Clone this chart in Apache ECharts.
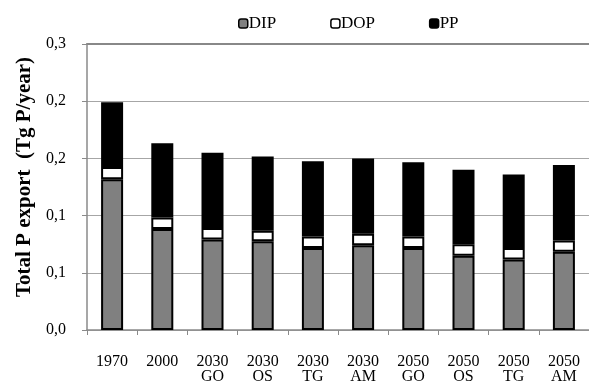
<!DOCTYPE html>
<html>
<head>
<meta charset="utf-8">
<script src="https://cdn.jsdelivr.net/npm/echarts@6/dist/echarts.min.js"></script>
<style>
  html, body { margin: 0; padding: 0; background: #fff; }
  #chart { width: 589px; height: 385px; }
</style>
</head>
<body>
<div id="chart"></div>
<script>
// Scenario labels (year + scenario code)
const categories = ['1970', '2000', '2030\nGO', '2030\nOS', '2030\nTG', '2030\nAM', '2050\nGO', '2050\nOS', '2050\nTG', '2050\nAM'];

// Total P export components, Tg P/year
const dip = [0.158, 0.106, 0.095, 0.093, 0.086, 0.089, 0.086, 0.078, 0.074, 0.082];
const dop = [0.013, 0.012, 0.012, 0.011, 0.012, 0.012, 0.012, 0.012, 0.012, 0.012];
const pp  = [0.068, 0.078, 0.079, 0.078, 0.079, 0.079, 0.078, 0.078, 0.077, 0.079];

const serif = "'Liberation Serif', 'Times New Roman', serif";

const chart = echarts.init(document.getElementById('chart'), null, { renderer: 'canvas' });

function seg(name, data, color) {
  return {
    name: name,
    type: 'bar',
    stack: 'total',
    data: data,
    barWidth: 22,
    itemStyle: { color: color, borderColor: '#000', borderWidth: 2 },
    emphasis: { disabled: true }
  };
}

chart.setOption({
  animation: false,
  textStyle: { fontFamily: serif },
  legend: {
    top: 10,
    left: 233,
    itemWidth: 9,
    itemHeight: 9,
    itemGap: 54,
    icon: 'roundRect',
    textStyle: { fontFamily: serif, fontSize: 17, color: '#000', padding: [0, 0, 0, -4] },
    data: [
      { name: 'DIP', itemStyle: { color: '#808080', borderColor: '#000', borderWidth: 1.5 } },
      { name: 'DOP', itemStyle: { color: '#fff', borderColor: '#000', borderWidth: 1.5 } },
      { name: 'PP', itemStyle: { color: '#000', borderColor: '#000', borderWidth: 1.5 } }
    ]
  },
  grid: { left: 87, top: 44, right: -9, bottom: 55 },
  xAxis: [{
    type: 'category',
    data: categories,
    boundaryGap: true,
    axisLine: { lineStyle: { color: '#8a8a8a', width: 1.5 } },
    axisTick: { show: true, length: 5, lineStyle: { color: '#8a8a8a' } },
    axisLabel: { color: '#000', fontFamily: serif, fontSize: 16, margin: 24, lineHeight: 15 }
  }, {
    type: 'category',
    position: 'top',
    data: categories,
    axisLine: { lineStyle: { color: '#888', width: 2 } },
    axisTick: { show: false },
    axisLabel: { show: false }
  }],
  yAxis: {
    type: 'value',
    min: 0,
    max: 0.3,
    interval: 0.06,
    name: 'Total P export  (Tg P/year)',
    nameLocation: 'middle',
    nameGap: 52,
    nameTextStyle: { fontFamily: serif, fontSize: 21, fontWeight: 'bold', color: '#000', padding: [0, 0, 0, 20] },
    axisLine: { show: true, lineStyle: { color: '#8a8a8a', width: 1.5 } },
    axisTick: { show: true, length: 5, lineStyle: { color: '#8a8a8a' } },
    axisLabel: {
      color: '#000', fontFamily: serif, fontSize: 16, margin: 21,
      formatter: v => v.toFixed(1).replace('.', ',')
    },
    splitLine: { show: true, lineStyle: { color: '#a6a6a6', width: 1 } }
  },
  series: [
    seg('DIP', dip, '#808080'),
    seg('DOP', dop, '#ffffff'),
    seg('PP', pp, '#000000')
  ]
});
</script>
</body>
</html>
